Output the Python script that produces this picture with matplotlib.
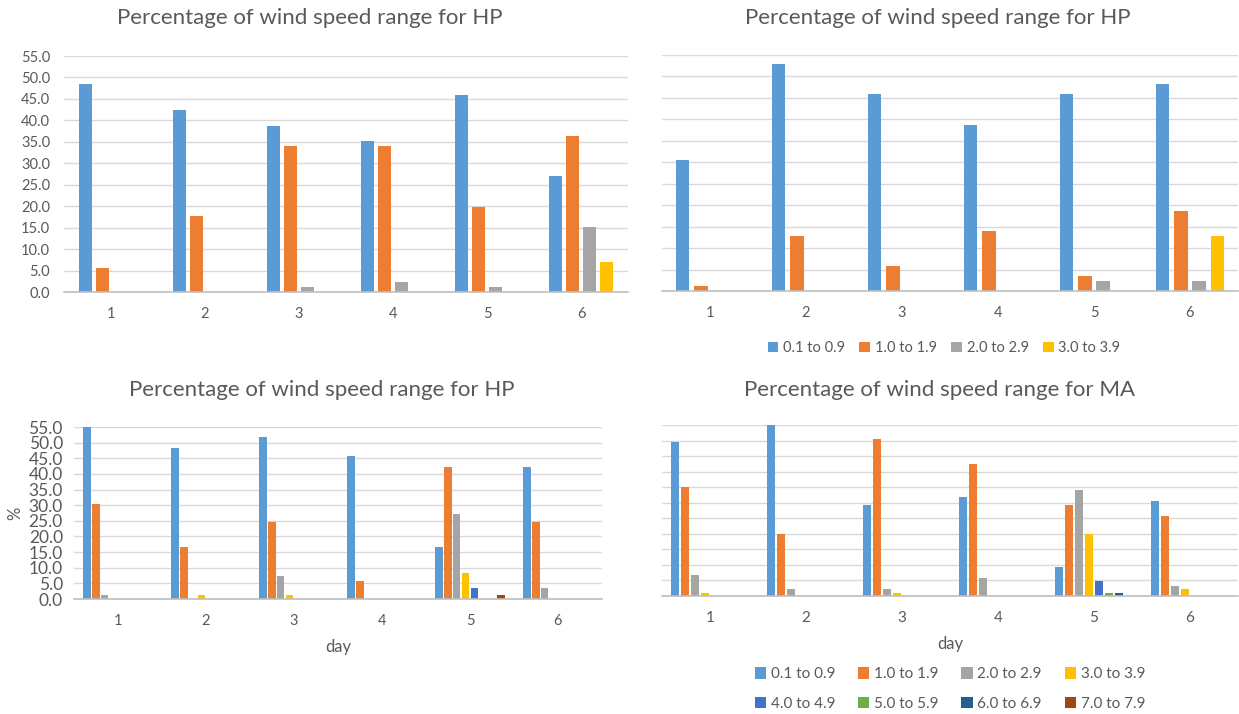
import matplotlib
matplotlib.use("Agg")
import matplotlib.pyplot as plt
from matplotlib.patches import Patch
import numpy as np

plt.rcParams['font.family'] = ['Lato', 'DejaVu Sans']

days = ["1", "2", "3", "4", "5", "6"]
series_labels = ["0.1 to 0.9", "1.0 to 1.9", "2.0 to 2.9", "3.0 to 3.9",
                 "4.0 to 4.9", "5.0 to 5.9", "6.0 to 6.9", "7.0 to 7.9"]
colors = ["#5B9BD5", "#ED7D31", "#A5A5A5", "#FFC000",
          "#4472C4", "#70AD47", "#255E91", "#9E480E"]
yticks = [0, 5, 10, 15, 20, 25, 30, 35, 40, 45, 50, 55]

# Top-left (HP)
tl_01 = [48.4, 42.4, 38.8, 35.2, 46.0, 27.0]
tl_10 = [5.6, 17.7, 34.0, 34.0, 19.8, 36.4]
tl_20 = [0, 0, 1.1, 2.3, 1.1, 15.2]
tl_30 = [0, 0, 0, 0, 0, 6.9]

# Top-right (HP)
tr_01 = [30.5, 53.0, 45.8, 38.8, 45.8, 48.2]
tr_10 = [1.1, 12.8, 5.8, 14.0, 3.4, 18.7]
tr_20 = [0, 0, 0, 0, 2.3, 2.3]
tr_30 = [0, 0, 0, 0, 0, 12.8]

# Bottom-left (HP)
bl_01 = [55.0, 48.2, 51.8, 45.7, 16.5, 42.2]
bl_10 = [30.3, 16.5, 24.7, 5.8, 42.2, 24.7]
bl_20 = [1.2, 0, 7.2, 0, 27.1, 3.6]
bl_30 = [0, 1.2, 1.2, 0, 8.2, 0]
bl_40 = [0, 0, 0, 0, 3.6, 0]
bl_50 = [0, 0, 0, 0, 0, 0]
bl_60 = [0, 0, 0, 0, 0, 0]
bl_70 = [0, 0, 0, 0, 1.2, 0]

# Bottom-right (MA)
br_01 = [49.4, 55.2, 29.3, 31.8, 9.3, 30.5]
br_10 = [35.1, 19.9, 50.5, 42.3, 29.3, 25.8]
br_20 = [6.9, 2.1, 2.1, 5.7, 34.0, 3.3]
br_30 = [1.1, 0, 1.1, 0, 19.9, 2.1]
br_40 = [0, 0, 0, 0, 4.7, 0]
br_50 = [0, 0, 0, 0, 1.1, 0]
br_60 = [0, 0, 0, 0, 1.1, 0]
br_70 = [0, 0, 0, 0, 0, 0]

W, H = 1239, 714
fig = plt.figure(figsize=(W / 100, H / 100), dpi=100)
fig.patch.set_facecolor("white")
TXT = "#595959"


def make_ax(x0, x1, ytop, ybot):
    return fig.add_axes([x0 / W, (H - ybot) / H, (x1 - x0) / W, (ybot - ytop) / H])


def draw(ax, data, step, width, show_yt, tick_fs, ylab_fs):
    x = np.arange(len(days))
    n = len(data)
    for i, vals in enumerate(data):
        off = (i - (n - 1) / 2) * step
        ax.bar(x + off, vals, width=width, color=colors[i], zorder=3)
    ax.set_xlim(-0.5, len(days) - 0.5)
    ax.set_ylim(0, 55)
    ax.set_yticks(yticks)
    ax.set_yticklabels([f"{v:.1f}" for v in yticks] if show_yt else [])
    ax.set_xticks(x)
    ax.set_xticklabels(days)
    ax.grid(axis="y", color="#d9d9d9", linewidth=1.0, zorder=0)
    ax.set_axisbelow(True)
    for s in ["left", "right", "top"]:
        ax.spines[s].set_visible(False)
    ax.spines["bottom"].set_color("#bfbfbf")
    ax.spines["bottom"].set_linewidth(1.2)
    ax.spines["bottom"].set_zorder(4)
    ax.tick_params(axis="both", length=0, colors=TXT)
    ax.tick_params(axis="x", labelsize=tick_fs, pad=11)
    ax.tick_params(axis="y", labelsize=ylab_fs, pad=10)


ax1 = make_ax(64, 628, 56, 292)
draw(ax1, [tl_01, tl_10, tl_20, tl_30], 0.18, 0.145, True, 10.5, 10.5)
ax2 = make_ax(662, 1238, 55, 291)
draw(ax2, [tr_01, tr_10, tr_20, tr_30], 0.19, 0.14, False, 10.5, 10.5)
ax3 = make_ax(74, 602, 427, 599)
draw(ax3, [bl_01, bl_10, bl_20, bl_30, bl_40, bl_50, bl_60, bl_70], 0.102, 0.09, True, 10.5, 12.5)
ax3.tick_params(axis="y", pad=8)
ax4 = make_ax(662, 1238, 425, 596)
draw(ax4, [br_01, br_10, br_20, br_30, br_40, br_50, br_60, br_70], 0.104, 0.078, False, 11, 11)

ax3.set_ylabel("%", color=TXT, fontsize=12, labelpad=4)
ax3.set_xlabel("day", color=TXT, fontsize=12, labelpad=8)
ax4.set_xlabel("day", color=TXT, fontsize=12, labelpad=8)

fig.text(310 / W, 1 - 18 / H, "Percentage of wind speed range for HP", ha="center", va="center",
         fontsize=16, color=TXT)
fig.text(938 / W, 1 - 18 / H, "Percentage of wind speed range for HP", ha="center", va="center",
         fontsize=16, color=TXT)
fig.text(322 / W, 1 - 390 / H, "Percentage of wind speed range for HP", ha="center", va="center",
         fontsize=16, color=TXT)
fig.text(940 / W, 1 - 390 / H, "Percentage of wind speed range for MA", ha="center", va="center",
         fontsize=16, color=TXT)

h4 = [Patch(facecolor=colors[i], label=series_labels[i]) for i in range(4)]
fig.legend(handles=h4, loc="center", bbox_to_anchor=(944 / W, 1 - 348 / H), ncol=4,
           frameon=False, fontsize=10.5, labelcolor=TXT, handlelength=0.75, handleheight=0.75,
           handletextpad=0.3, columnspacing=1.0)

order = [0, 4, 1, 5, 2, 6, 3, 7]
h8 = [Patch(facecolor=colors[i], label=series_labels[i]) for i in order]
fig.legend(handles=h8, loc="center", bbox_to_anchor=(950 / W, 1 - 689 / H), ncol=4,
           frameon=False, fontsize=11, labelcolor=TXT, handlelength=0.75, handleheight=0.75,
           handletextpad=0.3, columnspacing=1.5, labelspacing=1.0)

fig.savefig("out.png", dpi=100, facecolor="white")
